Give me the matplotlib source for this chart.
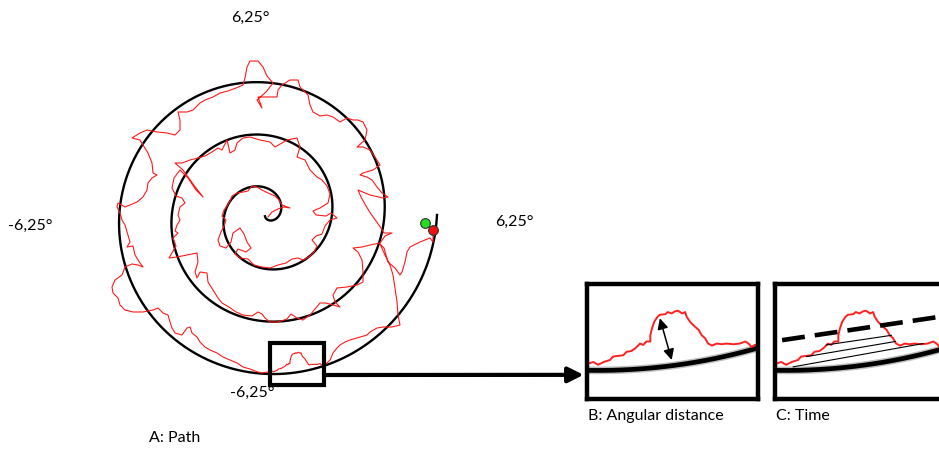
import numpy as np
import matplotlib
matplotlib.use("Agg")
import matplotlib.pyplot as plt
from matplotlib.patches import Rectangle, ConnectionPatch

plt.rcParams['font.family'] = ['Lato', 'DejaVu Sans']

# Archimedean spiral target: radius (deg) = R0 + PITCH * angle (rad)
SPIRAL_R0 = 0.576
SPIRAL_PITCH = 0.3344
SPIRAL_T = (-np.pi / 2, 6 * np.pi)

# recorded gaze path, degrees of visual angle
path_x = [0.12, 0.28, 0.52, 0.76, 1.00, 0.68, 0.56, 0.40, 0.12, -0.12, -0.32, -0.52, -0.68, -0.88, -1.12, -1.32,
          -1.40, -1.52, -1.64, -1.72, -1.56, -1.64, -1.76, -1.88, -1.80, -1.56, -1.36, -1.28, -1.00, -0.84, -0.72,
          -0.56, -0.76, -1.08, -1.20, -1.00, -0.68, -0.44, -0.12, 0.20, 0.52, 0.84, 1.08, 1.32, 1.52, 1.76, 1.96,
          2.08, 1.88, 2.04, 2.28, 2.40, 2.60, 2.88, 2.64, 2.44, 2.04, 1.92, 2.20, 2.52, 2.60, 2.48, 2.28, 2.08,
          1.80, 1.60, 1.28, 1.40, 1.28, 0.88, 0.68, 0.40, 0.20, -0.20, -0.60, -0.88, -1.12, -1.20, -1.40, -1.52,
          -1.72, -1.88, -2.12, -2.40, -2.68, -3.00, -3.32, -3.60, -3.28, -2.88, -2.48, -2.76, -3.08, -3.40, -3.64,
          -3.72, -3.56, -3.32, -3.20, -3.40, -3.48, -3.40, -3.52, -3.60, -3.48, -3.68, -3.56, -3.84, -3.52, -3.12,
          -2.72, -2.68, -2.80, -2.72, -2.60, -2.32, -2.28, -2.08, -1.88, -1.72, -1.44, -1.16, -0.88, -0.52, -0.28,
          -0.12, 0.00, 0.20, 0.52, 0.88, 1.04, 1.28, 1.52, 1.80, 2.00, 2.20, 2.44, 2.72, 3.00,
          2.80, 2.72, 2.88, 3.28, 3.68, 3.92, 3.92, 3.88, 3.72, 3.52, 3.88, 4.20, 4.60, 4.80, 5.08, 4.76, 4.64,
          4.44, 4.24, 4.04, 3.84, 3.72, 4.20, 4.72, 4.92, 4.68, 4.48, 4.28, 4.08, 3.80, 3.92, 4.32, 4.60, 4.40,
          4.20, 3.92, 3.68, 4.00, 4.08, 3.92, 3.72, 3.52, 3.28, 3.00, 2.72, 2.48, 2.20, 1.92, 1.80, 1.72, 1.56,
          1.40, 1.32, 1.00, 0.68, 0.52, 0.48, 0.12, -0.28, -0.12, -0.32,
          0.04, 0.32, 0.08, -0.08, -0.28, -0.60, -0.72, -0.80, -0.88, -1.16, -1.48, -1.80, -2.08, -2.40, -2.60,
          -2.88, -3.12, -3.48, -3.40, -3.40, -3.60, -3.92, -4.32, -4.72, -5.00, -5.32, -5.00, -4.88, -4.68, -4.52,
          -4.48, -4.32, -4.52, -4.68, -4.72, -4.88, -5.12, -5.40, -5.60, -5.88, -5.92, -5.80, -5.72, -5.60, -5.48,
          -5.40, -5.52, -5.28, -5.20, -5.00, -4.88, -5.08, -5.32, -5.60, -5.72, -6.00, -6.12, -6.08, -5.88, -5.80,
          -5.60, -5.28, -4.88, -4.48, -4.28, -4.08, -3.88, -3.80, -3.72, -3.60, -3.32, -3.12, -3.00, -2.92, -2.72,
          -2.60, -2.40, -2.20, -1.92, -1.68, -1.40, -1.12, -0.88, -0.60, -0.40, -0.28, -0.12,
          0.22, 0.28, 0.34, 0.41, 0.49, 0.53, 0.60, 0.66, 0.70, 0.76, 0.81, 0.87, 0.91, 0.95, 1.00, 1.00, 1.02,
          1.05, 1.09, 1.12, 1.19, 1.22, 1.27, 1.31, 1.35, 1.40, 1.44, 1.46, 1.50, 1.56, 1.61, 1.65, 1.69, 1.73,
          1.78, 1.84, 1.90, 1.96, 2.05, 2.13, 2.20, 2.24, 2.28, 2.32, 2.39,
          2.60, 2.72, 2.88, 3.00, 3.20, 3.40, 3.80, 4.08, 4.20, 4.48, 4.72, 5.08, 5.40, 5.32, 5.28, 5.20, 5.12,
          5.00, 4.80, 4.60, 4.76, 4.92, 5.20, 5.40, 5.48, 5.60, 5.68, 5.80, 6.20, 6.60, 6.72, 6.72]
path_y = [-0.08, 0.12, 0.24, 0.32, 0.28, 0.40, 0.60, 0.76, 0.88, 1.00, 1.12, 1.16, 0.96, 0.92, 0.88, 0.76,
          0.56, 0.36, 0.20, -0.04, -0.20, -0.44, -0.68, -1.00, -1.24, -1.32, -1.08, -0.72, -0.52, -0.76, -1.08,
          -1.32, -1.48, -1.36, -1.56, -1.72, -1.76, -2.00, -2.08, -2.12, -2.00, -1.92, -1.76, -1.72, -1.80, -1.68,
          -1.48, -1.24, -1.00, -0.84, -0.76, -0.44, -0.20, -0.12, 0.08, -0.04, 0.00, 0.16, 0.28, 0.48, 0.84, 1.16,
          1.40, 1.52,
          1.80, 2.20, 2.32, 2.72, 3.08, 3.00, 2.88, 2.72, 2.92, 3.00, 3.12, 3.08, 2.88, 2.60, 2.48, 3.00, 2.60,
          2.68, 2.52, 2.36, 2.28, 2.20, 2.08, 2.08, 1.80, 1.24, 0.72, 1.00, 1.48, 1.80, 1.48, 1.08, 0.76, 0.68,
          0.48, 0.32, 0.00, -0.20, -0.40, -0.64, -0.72, -0.92, -1.24, -1.72, -1.68, -1.60, -1.52, -1.88, -2.28,
          -2.52, -2.28, -2.32, -2.68, -3.00, -3.32, -3.52, -3.68, -3.88, -4.00, -4.04, -3.88, -3.96, -4.12, -4.28,
          -4.28, -4.16, -3.96, -4.12, -4.20, -4.00, -3.76, -3.52, -3.52, -3.60, -3.68,
          -3.48, -3.20, -2.92, -2.88, -2.80, -2.68, -2.28, -1.80, -1.48, -1.32, -1.28, -1.20, -1.12, -0.84, -0.72,
          -0.72, -0.52, -0.24, 0.04, 0.36, 0.72, 1.00, 0.80, 0.68, 0.72, 0.88, 1.12, 1.40, 1.52, 1.60, 1.68, 1.80,
          2.00, 2.32, 2.60, 2.72, 2.72, 3.00, 3.40, 3.72, 3.80, 3.80, 3.88, 3.72, 3.92, 4.00, 3.96, 4.12, 4.40,
          4.80, 4.96, 5.12, 5.40, 5.40, 5.20, 5.00, 4.72, 4.72, 4.72, 4.28, 4.60,
          4.92, 5.28, 5.56, 5.92, 6.16, 6.16, 5.92, 5.48, 5.20, 5.08, 4.96, 4.88, 4.72, 4.60, 4.48, 4.20, 4.12,
          4.12, 3.80, 3.40, 3.20, 3.28, 3.32, 3.40, 3.28, 3.08, 3.00, 2.80, 2.48, 2.08, 1.68, 1.60, 1.48, 1.28,
          1.00, 0.72, 0.52, 0.40, 0.32, 0.48, 0.32, 0.08, -0.20, -0.40, -0.80, -1.08, -1.28, -1.24, -1.60, -1.92,
          -2.08, -2.00, -1.96, -2.08, -2.40, -2.60, -2.88, -3.12, -3.32, -3.60, -3.80, -3.88, -3.88, -3.80, -3.72,
          -3.92, -4.00, -4.28, -4.52, -4.72, -4.80, -4.52, -4.48, -4.72, -4.88, -5.08, -5.28, -5.40, -5.52, -5.68,
          -5.80, -5.92, -6.08, -6.16, -6.24, -6.28, -6.32,
          -6.26, -6.24, -6.28, -6.24, -6.21, -6.16, -6.15, -6.14, -6.09, -6.08, -6.04, -5.97, -5.99, -5.94, -5.94,
          -5.85, -5.75, -5.65, -5.58, -5.55, -5.54, -5.51, -5.53, -5.50, -5.49, -5.53, -5.51, -5.58, -5.65, -5.72,
          -5.77, -5.85, -5.89, -5.97, -6.00, -5.97, -5.98, -5.97, -5.98, -5.97, -5.94, -5.97, -6.02, -5.99, -6.00,
          -5.80, -5.52, -5.32, -5.20, -5.08, -5.00, -4.88, -4.80, -4.68, -4.52, -4.48, -4.48, -4.40, -4.00, -3.48,
          -2.92, -2.40, -2.00, -1.60, -1.16, -1.32, -1.88, -2.12, -2.40, -2.28, -1.88, -1.48, -1.28, -1.08, -0.92,
          -1.08, -0.68]

target_start = (6.40, -0.32)
gaze_end = (6.72, -0.60)

# part of the path enlarged in B and C
zoom_x = (0.20, 2.36)
zoom_y = (-6.78, -5.10)

# B: angular distance from the path peak to the spiral
dist_x = [1.12, 1.27]
dist_y = [-5.60, -6.21]

# C: reference line and time segments
ref_x = [0.29, 2.45]
ref_y = [-5.92, -5.55]
seg_x = [(0.43, 2.07), (0.60, 1.72), (0.85, 1.67)]
seg_y = [(-6.31, -5.97), (-6.16, -5.94), (-5.99, -5.85)]

W, H = 939, 449
fig = plt.figure(figsize=(W / 100, H / 100), dpi=100)

t = np.linspace(SPIRAL_T[0], SPIRAL_T[1], 3000)
r = SPIRAL_R0 + SPIRAL_PITCH * t
sx = r * np.cos(t)
sy = r * np.sin(t)

# A: whole trial, 25 px per degree
ax = fig.add_axes([0, 0, 560 / W, 1])
ax.set_xlim(-265 / 25, 295 / 25)
ax.set_ylim(-234 / 25, 215 / 25)
ax.axis('off')
ax.plot(sx, sy, color='black', lw=1.7, zorder=2)
ax.plot(path_x, path_y, color='#ff1a1a', lw=0.8, zorder=3)
ax.plot(*target_start, 'o', ms=7, mfc='#22dd22', mec='#333333', mew=0.8, zorder=5)
ax.plot(*gaze_end, 'o', ms=7, mfc='#ee1111', mec='#333333', mew=0.8, zorder=5)
ax.add_patch(Rectangle((zoom_x[0], zoom_y[0]), zoom_x[1] - zoom_x[0], zoom_y[1] - zoom_y[0],
                       fill=False, ec='black', lw=3, zorder=4))


def close_up(left):
    a = fig.add_axes([left / W, 50 / H, 171 / W, 115 / H])
    a.set_xlim(*zoom_x)
    a.set_ylim(*zoom_y)
    a.set_xticks([])
    a.set_yticks([])
    for s in a.spines.values():
        s.set_linewidth(3.2)
    # soft edge round the spiral
    a.plot(sx, sy, color='black', lw=5.5, alpha=0.25, solid_capstyle='butt')
    a.plot(sx, sy, color='black', lw=3.4, solid_capstyle='butt')
    a.plot(path_x, path_y, color='#ff2020', lw=1.4)
    return a


ax_b = close_up(587)
ax_b.annotate('', xy=(dist_x[1], dist_y[1]), xytext=(dist_x[0], dist_y[0]),
              arrowprops=dict(arrowstyle='<|-|>', color='black', lw=1.1, mutation_scale=16,
                              shrinkA=0, shrinkB=0))

ax_c = close_up(775)
ax_c.plot(ref_x, ref_y, color='black', lw=3.3, dashes=(5, 2.2))
for xs, ys in zip(seg_x, seg_y):
    ax_c.plot(xs, ys, color='black', lw=0.8)

con = ConnectionPatch(xyA=(zoom_x[1], -6.40), coordsA=ax.transData,
                      xyB=(-0.02, 0.21), coordsB=ax_b.transAxes,
                      arrowstyle='-|>', color='black', lw=3, mutation_scale=23,
                      shrinkA=0, shrinkB=0)
fig.add_artist(con)

fs = 11.5
fig.text(250 / W, 1 - 18 / H, '6,25°', ha='center', va='center', fontsize=fs)
fig.text(30 / W, 1 - 226 / H, '-6,25°', ha='center', va='center', fontsize=fs)
fig.text(514 / W, 1 - 222 / H, '6,25°', ha='center', va='center', fontsize=fs)
fig.text(252 / W, 1 - 393 / H, '-6,25°', ha='center', va='center', fontsize=fs)
fig.text(175 / W, 1 - 438 / H, 'A: Path', ha='center', va='center', fontsize=fs)
fig.text(588 / W, 1 - 416 / H, 'B: Angular distance', ha='left', va='center', fontsize=fs)
fig.text(776 / W, 1 - 416 / H, 'C: Time', ha='left', va='center', fontsize=fs)

fig.savefig('out.png', dpi=100)
